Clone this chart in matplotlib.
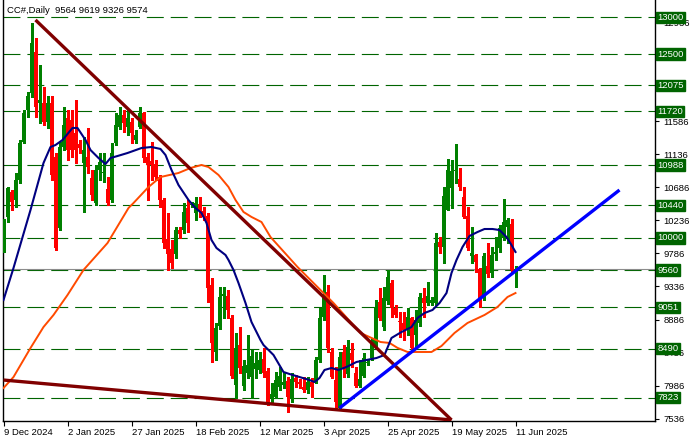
import matplotlib
matplotlib.use("Agg")
import matplotlib.pyplot as plt
import numpy as np

plt.rcParams['font.family'] = ['Liberation Sans', 'DejaVu Sans']
plt.rcParams['lines.scale_dashes'] = False

# ---------------- data ----------------
title_text = "CC#,Daily  9564 9619 9326 9574"

opens = [9833, 10282, 10623, 10514, 10786, 11304, 11740, 11971, 12530, 11835,
         11835, 11576, 11835, 11100, 10133, 11236, 11630, 11600, 11427, 11277,
         11018, 11100, 10814, 10473, 10923, 10880, 10664, 10514, 11290, 11508,
         11670, 11508, 11576, 11331, 11508, 11699, 11100, 11045, 11000, 10827,
         10514, 9983, 9847, 9778, 10105, 10105, 10405, 10440, 10337, 10460,
         10364, 10296, 9356, 8444, 8798, 9206, 9206, 8907, 7994, 8539,
         7981, 8158, 8103, 8212, 8199, 8349, 8185, 7817, 7831, 7967,
         7994, 8049, 7804, 8090, 8035, 7967, 7926, 8035, 8049, 8335,
         8920, 9261, 8444, 8062, 7681, 8444, 8144, 8430, 8158, 7981,
         8117, 8290, 8362, 8539, 9125, 8784, 9140, 9383, 9043, 8870,
         8839, 8744, 8907, 8675, 8839, 9179, 9111, 9111, 9111, 9942,
         9874, 10378, 10677, 10905, 10800, 10555, 10296, 9751, 9765, 9574,
         9193, 9615, 9520, 9785, 9860, 9997, 10146, 10187, 9564]
highs = [10250, 10690, 10650, 10880, 11330, 11740, 11980, 12925, 12720, 12353,
         12050, 11930, 11930, 11150, 11300, 11781, 11740, 11740, 11876, 11330,
         11370, 11500, 10923, 10990, 11154, 11154, 10827, 11290, 11699, 11781,
         11740, 11740, 11630, 11470, 11781, 11710, 11150, 11304, 11060, 10855,
         10540, 10337, 9970, 10146, 10146, 10473, 10514, 10480, 10555, 10555,
         10420, 10337, 9450, 8839, 9330, 9330, 9290, 8948, 8703, 8784,
         8335, 8675, 8471, 8444, 8444, 8500, 8226, 8021, 8171, 8240,
         8158, 8103, 8158, 8130, 8080, 8103, 8103, 8090, 8376, 9043,
         9493, 9356, 8500, 8240, 8444, 8539, 8607, 8567, 8240, 8335,
         8430, 8330, 8640, 9152, 9315, 9330, 9561, 9424, 9084, 8990,
         8990, 9043, 8920, 9016, 9247, 9315, 9397, 9190, 10064, 10010,
         10690, 11073, 11060, 11277, 10950, 10690, 10420, 10146, 9780, 9590,
         9792, 9928, 9874, 10010, 10173, 10528, 10270, 10256, 9619]
lows = [9800, 10220, 10380, 10420, 10740, 11290, 11640, 11920, 11644, 11563,
        11535, 11500, 10786, 9833, 10100, 11195, 11060, 11100, 11018, 11150,
        10351, 10882, 10514, 10440, 10786, 10760, 10446, 10487, 11260, 11480,
        11440, 11400, 11290, 11290, 11490, 11032, 10514, 10786, 10786, 10420,
        9860, 9561, 9590, 9724, 10000, 10064, 10080, 10420, 10242, 10282,
        10242, 9125, 8308, 8335, 8757, 8907, 8907, 8090, 7817, 8158,
        7926, 8090, 7817, 8090, 8158, 8103, 7720, 7749, 7817, 7926,
        7950, 7630, 7763, 7967, 7960, 7900, 7885, 7831, 8021, 8308,
        8880, 8444, 8090, 7654, 7654, 8103, 8103, 8240, 7967, 7967,
        8103, 8270, 8335, 8500, 8880, 8744, 9100, 8920, 8920, 8650,
        8610, 8675, 8471, 8512, 8798, 8920, 9084, 9084, 9084, 9792,
        9656, 10378, 10405, 10745, 10650, 10270, 9833, 9656, 9533, 9057,
        9152, 9465, 9465, 9700, 9806, 9970, 9928, 9520, 9326]
closes = [10201, 10677, 10487, 10786, 11290, 11699, 11930, 12652, 11781, 11876,
          11576, 11835, 10855, 9860, 11236, 11535, 11195, 11195, 11195, 11222,
          11195, 10963, 10582, 10923, 11032, 10890, 10473, 11154, 11535, 11670,
          11563, 11630, 11427, 11399, 11699, 11086, 10991, 10991, 10827, 10514,
          9928, 9778, 9656, 10105, 10051, 10351, 10201, 10450, 10473, 10364,
          10282, 9315, 8567, 8771, 9193, 9234, 9016, 8117, 8500, 8226,
          8253, 8267, 8389, 8294, 8335, 8158, 7749, 7872, 8062, 8117,
          8035, 7831, 8076, 8035, 8008, 7926, 8035, 7967, 8335, 8907,
          9193, 8500, 8103, 7763, 8376, 8212, 8512, 8335, 7981, 8076,
          8362, 8300, 8580, 9057, 8907, 9179, 9470, 9043, 8948, 8850,
          8744, 8920, 8500, 8880, 9193, 9111, 9206, 9152, 9928, 9874,
          10568, 10923, 10910, 10915, 10690, 10282, 9860, 9792, 9670, 9179,
          9751, 9506, 9765, 9800, 10133, 10215, 10242, 9561, 9574]

# moving averages (bar position, price)
fast_ma_bar = [0, 2.5, 6.75, 10, 11.75, 13, 14.75, 17.25, 18.5, 20.5, 21.75, 23.75, 25.5,
               26.75, 28.5, 31, 34.5, 37, 39.25, 40.5, 42, 43.75, 46.25, 48, 49.5,
               50.75, 52, 53.25, 55.5, 56.25, 57.5, 58.75, 60.5, 62, 64.25, 65, 67.5,
               70, 71.5, 74, 76.5, 77.75, 79, 80.25, 82, 83.75, 85.75, 88.25, 90.75,
               93.25, 95.25, 97, 99.5, 102, 103.5, 105.25, 107.25, 109, 110.75, 112,
               113.25, 114.75, 116.5, 118.5, 120.25, 122.25, 124, 125.75, 127, 128]
fast_ma_val = [9152, 9588, 10378, 11018, 11236, 11263, 11331, 11495, 11495, 11331, 11195,
               11086, 11004, 11086, 11113, 11154, 11222, 11236, 11209, 11127, 10923,
               10718, 10514, 10405, 10337, 10201, 9969, 9860, 9765, 9697, 9561, 9383,
               9111, 8852, 8607, 8539, 8403, 8171, 8144, 8103, 8062, 8035, 8090, 8199,
               8226, 8199, 8240, 8308, 8335, 8362, 8403, 8635, 8716, 8784, 8907, 8975,
               9016, 9111, 9247, 9520, 9697, 9874, 10024, 10078, 10119, 10119, 10105,
               10010, 9901, 9806]
slow_ma_bar = [0, 2.5, 6.75, 10, 12.5, 16, 20, 26, 31.25, 32.5, 36.25, 39.25, 43.75,
               46.75, 49.5, 51.25, 53.75, 56.25, 58, 60, 62, 64.5, 66.75, 73.5, 79.25,
               82.5, 89.25, 94.25, 96.5, 98.5, 101, 107, 109.5, 112.75, 116, 120.25,
               123.5, 126, 128]
slow_ma_val = [7953, 8103, 8498, 8784, 8948, 9220, 9561, 9928, 10405, 10473, 10691,
               10827, 10882, 10950, 10991, 10963, 10855, 10691, 10514, 10351, 10283,
               10214, 10010, 9602, 9288, 9111, 8703, 8580, 8567, 8500, 8444, 8444,
               8526, 8703, 8839, 8948, 9057, 9193, 9247]

# trend lines (bar position, price)
upper_trend_bar = [8, 112]
upper_trend_price = [12966, 7518]
lower_trend_bar = [0, 112]
lower_trend_price = [8062, 7518]
support_trend_bar = [84, 154]
support_trend_price = [7681, 10650]

# horizontal levels
levels = [13000, 12500, 12075, 11720, 10988, 10440, 10000, 9560, 9051, 8490, 7823]
bid_price = 9574

price_ticks = [7536, 7986, 8436, 8886, 9336, 9786, 10236, 10686, 11136, 11586,
               12036, 12486, 12936]
price_tick_labels = ["7536", "7986", "8436", "8886", "9336", "9786", "10236", "10686",
                     "11136", "11586", "", "", "12936"]
date_labels = ["9 Dec 2024", "2 Jan 2025", "27 Jan 2025", "18 Feb 2025", "12 Mar 2025",
               "3 Apr 2025", "25 Apr 2025", "19 May 2025", "11 Jun 2025"]
date_bars = [0, 16, 32, 48, 64, 80, 96, 112, 128]

# ---------------- figure ----------------
W, H = 695, 442
fig = plt.figure(figsize=(W / 100, H / 100), dpi=100)
ax_left, ax_right, ax_top, ax_bottom = 2.5, 655, 0, 421
ax = fig.add_axes([ax_left / W, (H - ax_bottom) / H, (ax_right - ax_left) / W,
                   (ax_bottom - ax_top) / H])
ax.set_xlim(-0.25, 162.875)
ax.set_ylim(7504, 13238)

GREEN = '#008000'
RED = '#ff0000'
LEVEL = '#006400'

# horizontal levels
for lv in levels:
    ax.axhline(lv, color=LEVEL, lw=0.8, dashes=(12.2, 5.0), zorder=1)
ax.axhline(bid_price, color='#8c8c8c', lw=0.8, zorder=1.5)

# candles
x = np.arange(len(opens))
o = np.array(opens, float)
h = np.array(highs, float)
l = np.array(lows, float)
c = np.array(closes, float)
up = c >= o
col = np.where(up, GREEN, RED)
ax.vlines(x, l, h, colors=col, lw=0.75, zorder=3, antialiased=False)
body_lo = np.minimum(o, c)
body_h = np.maximum(np.abs(c - o), 14)
ax.bar(x, body_h, bottom=body_lo, width=0.7, color=col, linewidth=0, zorder=4,
       antialiased=False)

# moving averages
ax.plot(slow_ma_bar, slow_ma_val, color='#ff4a00', lw=1.4, zorder=5)
ax.plot(fast_ma_bar, fast_ma_val, color='#000080', lw=1.5, zorder=5)

# trend lines
ax.plot(upper_trend_bar, upper_trend_price, color='#800000', lw=2.4, zorder=6,
        solid_capstyle='butt')
ax.plot(lower_trend_bar, lower_trend_price, color='#800000', lw=2.4, zorder=6,
        solid_capstyle='butt')
ax.plot(support_trend_bar, support_trend_price, color='#0000ff', lw=2.4, zorder=6,
        solid_capstyle='butt')

# axes styling
ax.spines['top'].set_visible(False)
for s in ['left', 'right', 'bottom']:
    ax.spines[s].set_color('black')
    ax.spines[s].set_linewidth(1.0)
ax.yaxis.tick_right()
ax.set_yticks(price_ticks)
ax.set_yticklabels(price_tick_labels)
ax.tick_params(axis='y', direction='out', length=3, width=0.8, pad=3,
               labelsize=6.8, colors='black')
ax.set_xticks(date_bars)
ax.set_xticklabels(date_labels)
ax.tick_params(axis='x', direction='out', length=3.5, width=0.8, pad=1.5,
               labelsize=6.8, colors='black')
for lab in ax.get_xticklabels():
    lab.set_horizontalalignment('left')

# level label boxes on the right axis
for lv in levels:
    ax.annotate(str(lv), xy=(1.0, lv), xycoords=('axes fraction', 'data'),
                xytext=(1.6, 0), textcoords='offset points',
                ha='left', va='center', fontsize=6.8, color='white',
                annotation_clip=False, zorder=10,
                bbox=dict(boxstyle='square,pad=0.14', fc=LEVEL, ec=LEVEL))

fig.text(7 / W, 1 - 10.7 / H, title_text, fontsize=6.8, color='black',
         ha='left', va='center')

fig.savefig('out.png', dpi=100)
